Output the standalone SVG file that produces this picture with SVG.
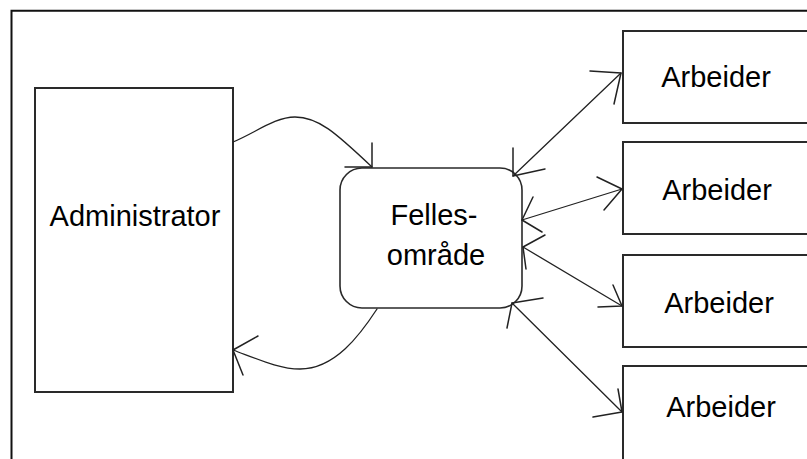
<svg xmlns="http://www.w3.org/2000/svg" width="807" height="459" viewBox="0 0 807 459">
<style>
.box{fill:#fff;stroke:#2a2a2a;stroke-width:2}
.frame{fill:none;stroke:#111;stroke-width:2}
.lbl{font-family:"Liberation Sans",Arial,sans-serif;font-size:29px;fill:#000;text-anchor:middle}
.con{fill:none;stroke:#222;stroke-width:1.3;stroke-linecap:round;stroke-linejoin:round}
.head{fill:none;stroke:#222;stroke-width:1.5;stroke-linecap:round;stroke-linejoin:round}
</style>
<rect width="807" height="459" fill="#fff"/>
<path class="frame" d="M11.5,459 V10.7 H807"/>
<g id="administrator">
<rect class="box" x="35" y="88" width="198" height="304"/>
<text class="lbl" x="135" y="226">Administrator</text>
</g>
<g id="fellesomrade">
<rect class="box" x="340" y="168" width="182" height="140" rx="22" ry="22" style="stroke-width:1.6"/>
<text class="lbl" x="434" y="225">Felles-</text>
<text class="lbl" x="436" y="265">område</text>
</g>
<g id="arbeider1">
<rect class="box" x="623" y="31" width="190" height="92"/>
<text class="lbl" x="716" y="87">Arbeider</text>
</g>
<g id="arbeider2">
<rect class="box" x="623" y="142" width="190" height="92"/>
<text class="lbl" x="717" y="200">Arbeider</text>
</g>
<g id="arbeider3">
<rect class="box" x="623" y="255" width="190" height="92"/>
<text class="lbl" x="719" y="313">Arbeider</text>
</g>
<g id="arbeider4">
<rect class="box" x="623" y="366" width="190" height="100"/>
<text class="lbl" x="721" y="417">Arbeider</text>
</g>
<g id="connectors">
<path class="con" d="M233,142 C255,133 275,117 295,117 C318,117 335,132 372,167"/>
<path class="head" d="M372,143 V167 H345"/>
<path class="con" d="M377,309 C360,335 335,369 300,369 C280,369 260,360 233,350"/>
<path class="head" d="M258,336 L233,350 L243,375"/>
<path class="con" d="M513,176 L621,73"/>
<path class="head" d="M513,148 V176 L545,169"/>
<path class="head" d="M590,71 L621,73 L614,104"/>
<path class="con" d="M522,220 L622,189"/>
<path class="head" d="M533,197 L522,220 L542,232"/>
<path class="head" d="M597,177 L622,189 L604,210"/>
<path class="con" d="M523,247 L622,306"/>
<path class="head" d="M545,235 L523,247 L526,269"/>
<path class="head" d="M613,285 L622,306 L598,307"/>
<path class="con" d="M512,303 L622,412"/>
<path class="head" d="M543,298 L512,303 L507,328"/>
<path class="head" d="M618,389 L622,412 L593,417"/>
</g>
</svg>
